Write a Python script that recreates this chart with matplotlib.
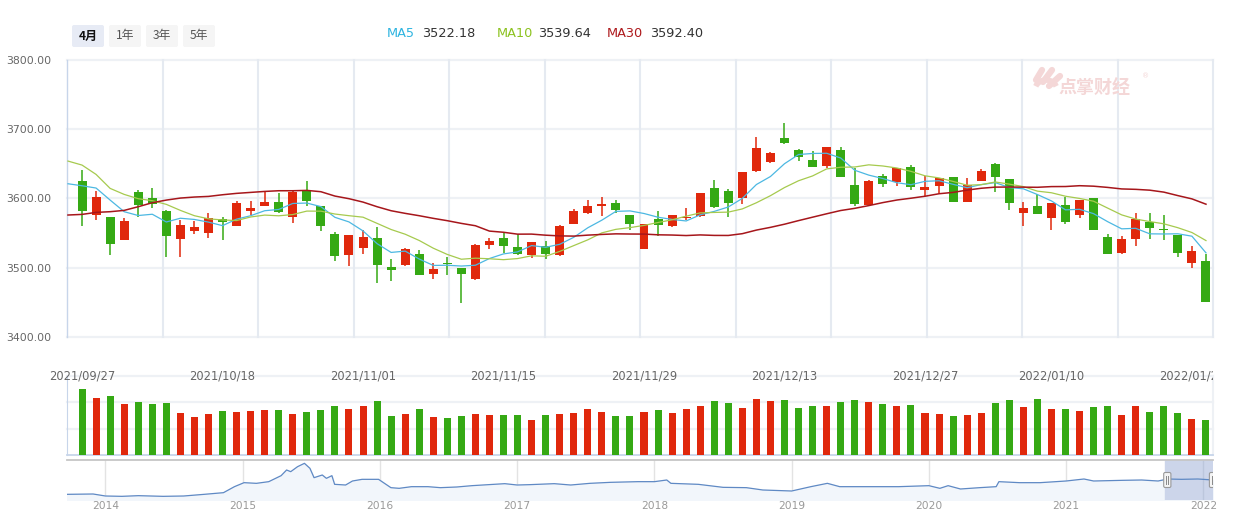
import matplotlib.pyplot as plt
from matplotlib.patches import FancyBboxPatch, Rectangle, Arc
from matplotlib.transforms import Bbox, TransformedBbox
import numpy as np
import pandas as pd

plt.rcParams['font.family'] = ['DejaVu Sans', 'Noto Sans CJK SC']

# ---- data ----
tick_idx = [0, 10, 20, 30, 40, 50, 60, 69, 79]
tick_labels = ['2021/09/27', '2021/10/18', '2021/11/01', '2021/11/15', '2021/11/29',
               '2021/12/13', '2021/12/27', '2022/01/10', '2022/01/24']

opens = [3625.0, 3576.3, 3573.0, 3540.2, 3609.1, 3600.4, 3581.6, 3541.7, 3553.2, 3550.3,
         3569.6, 3560.4, 3582.1, 3589.3, 3594.6, 3573.5, 3612.0, 3589.3, 3548.4, 3518.5,
         3528.7, 3542.6, 3500.7, 3504.1, 3519.5, 3491.1, 3506.0, 3499.3, 3483.9, 3533.0,
         3542.6, 3529.6, 3518.5, 3531.1, 3518.5, 3562.4, 3579.2, 3589.3, 3593.2, 3575.9,
         3527.2, 3570.1, 3560.4, 3571.0, 3574.9, 3614.9, 3610.5, 3600.9, 3639.9, 3652.9,
         3687.1, 3669.8, 3655.3, 3647.2, 3669.8, 3619.2, 3590.3, 3632.2, 3624.0, 3645.2,
         3612.5, 3618.2, 3630.8, 3595.1, 3625.0, 3649.5, 3627.9, 3579.2, 3588.9, 3572.0,
         3590.3, 3576.3, 3600.4, 3544.1, 3521.4, 3540.7, 3566.2, 3555.6, 3547.0, 3507.0,
         3509.4]
highs = [3640.9, 3610.5, 3573.0, 3571.0, 3612.0, 3614.9, 3583.1, 3568.6, 3567.7, 3578.8,
         3572.5, 3596.1, 3596.1, 3610.0, 3607.2, 3612.0, 3625.0, 3589.3, 3551.3, 3546.9,
         3554.2, 3559.0, 3512.3, 3528.2, 3525.3, 3506.5, 3515.2, 3499.3, 3533.9, 3542.6,
         3549.8, 3548.9, 3536.8, 3538.3, 3561.4, 3584.5, 3597.5, 3601.9, 3597.5, 3575.9,
         3562.9, 3581.6, 3575.9, 3586.0, 3607.6, 3626.4, 3613.4, 3638.0, 3688.6, 3666.9,
         3708.8, 3671.2, 3668.3, 3674.1, 3674.1, 3643.3, 3626.4, 3635.1, 3643.8, 3648.1,
         3632.2, 3629.3, 3630.8, 3629.3, 3642.3, 3651.0, 3627.9, 3594.6, 3606.7, 3593.2,
         3601.9, 3597.5, 3600.4, 3548.4, 3545.5, 3578.8, 3578.8, 3575.9, 3547.0, 3531.1,
         3519.5]
lows = [3560.4, 3568.6, 3518.1, 3540.2, 3572.5, 3586.5, 3515.6, 3515.6, 3547.9, 3543.1,
        3539.7, 3560.4, 3575.4, 3589.3, 3579.2, 3564.8, 3589.3, 3552.7, 3509.9, 3502.6,
        3520.0, 3478.1, 3481.0, 3502.6, 3489.6, 3483.9, 3489.6, 3449.2, 3482.4, 3526.7,
        3521.4, 3518.5, 3514.2, 3512.8, 3517.1, 3562.4, 3577.8, 3574.9, 3579.2, 3554.7,
        3527.2, 3546.0, 3559.0, 3568.6, 3573.5, 3586.5, 3573.5, 3592.2, 3638.5, 3651.5,
        3678.9, 3654.4, 3645.7, 3644.3, 3631.3, 3589.3, 3590.3, 3616.8, 3618.2, 3612.5,
        3603.8, 3608.1, 3595.1, 3595.1, 3625.0, 3609.6, 3583.6, 3560.4, 3577.8, 3554.7,
        3563.3, 3572.0, 3554.7, 3520.0, 3520.0, 3531.5, 3541.7, 3540.2, 3515.6, 3499.8,
        3449.7]
closes = [3582.1, 3601.9, 3534.4, 3567.2, 3590.3, 3591.3, 3546.0, 3561.4, 3558.5, 3571.0,
          3565.7, 3593.2, 3586.0, 3594.6, 3580.2, 3609.1, 3596.1, 3560.4, 3517.1, 3546.9,
          3544.1, 3504.1, 3496.9, 3526.7, 3489.6, 3497.8, 3505.5, 3491.1, 3532.5, 3538.3,
          3531.1, 3520.0, 3536.8, 3520.0, 3560.0, 3581.6, 3588.9, 3591.8, 3583.6, 3563.3,
          3562.9, 3561.9, 3575.9, 3572.5, 3607.6, 3587.9, 3593.7, 3638.0, 3672.7, 3665.5,
          3680.4, 3660.2, 3645.7, 3674.1, 3631.3, 3591.8, 3625.0, 3621.1, 3643.8, 3616.8,
          3616.3, 3629.3, 3595.1, 3619.2, 3639.4, 3630.8, 3593.7, 3586.0, 3577.8, 3593.2,
          3566.2, 3597.5, 3554.7, 3520.0, 3541.2, 3570.1, 3557.5, 3553.7, 3521.4, 3523.8,
          3449.7]
volumes = [198, 171, 177, 153, 159, 153, 156, 126, 114, 123,
           132, 129, 132, 135, 135, 123, 129, 135, 147, 138,
           147, 162, 117, 123, 138, 114, 111, 117, 123, 120,
           120, 120, 105, 120, 123, 126, 138, 129, 117, 117,
           129, 135, 126, 138, 147, 162, 156, 141, 168, 162,
           165, 141, 147, 147, 159, 165, 159, 153, 147, 150,
           126, 123, 117, 120, 126, 156, 165, 144, 168, 138,
           138, 132, 144, 147, 120, 147, 129, 147, 126, 108,
           105]

# MA values before enough closes are in the window (x = -1 ...)
ma5_head = [3621.1, 3618.2, 3614.9, 3597.5, 3580.7]
ma10_head = [3653.9, 3648.1, 3634.6, 3614.4, 3605.7, 3599.5, 3596.6, 3591.3, 3582.6, 3574.9]
ma30_head = [3575.9, 3576.8, 3579.7, 3580.7, 3582.6, 3587.9, 3593.7, 3597.5, 3600.4, 3601.9,
             3602.8, 3605.2, 3607.2, 3608.6, 3610.0, 3611.0, 3611.0, 3611.5, 3609.6, 3603.3,
             3599.5, 3594.6, 3587.9, 3582.1, 3578.3, 3574.9, 3571.1, 3567.7, 3563.8, 3560.4]
ma_last = ['3522.18', '3539.64', '3592.40']

nav_years = [2013.72, 2013.91, 2014.0, 2014.12, 2014.24, 2014.42, 2014.57, 2014.72, 2014.86, 2014.94,
             2015.01, 2015.10, 2015.19, 2015.28, 2015.32, 2015.35, 2015.40, 2015.45, 2015.49, 2015.52,
             2015.58, 2015.61, 2015.65, 2015.67, 2015.75, 2015.80, 2015.87, 2015.99, 2016.08, 2016.14,
             2016.23, 2016.35, 2016.44, 2016.56, 2016.67, 2016.91, 2017.0, 2017.09, 2017.27, 2017.39,
             2017.53, 2017.68, 2017.88, 2018.0, 2018.09, 2018.12, 2018.32, 2018.50, 2018.67, 2018.79,
             2019.0, 2019.14, 2019.26, 2019.35, 2019.55, 2019.78, 2020.0, 2020.08, 2020.14, 2020.23,
             2020.37, 2020.49, 2020.51, 2020.66, 2020.81, 2021.0, 2021.13, 2021.2, 2021.41, 2021.55,
             2021.67, 2021.74, 2021.84, 2021.96, 2022.07]
nav_values = [1914, 1949, 1738, 1703, 1773, 1703, 1738, 1914, 2089, 2721,
              3142, 3072, 3248, 3879, 4476, 4300, 4827, 5178, 4652, 3669,
              3950, 3598, 3879, 2967, 2896, 3318, 3493, 3493, 2616, 2546,
              2721, 2721, 2616, 2686, 2826, 3037, 2896, 2932, 3037, 2896,
              3072, 3177, 3248, 3248, 3423, 3072, 2967, 2651, 2616, 2370,
              2265, 2721, 3072, 2721, 2721, 2721, 2826, 2546, 2826, 2476,
              2616, 2721, 3248, 3142, 3142, 3318, 3528, 3318, 3388, 3423,
              3318, 3528, 3493, 3528, 3423]
nav_ticks = [2014, 2015, 2016, 2017, 2018, 2019, 2020, 2021, 2022]

# ---- styling ----
RED = '#e0280c'
GREEN = '#35a914'
MA_COLORS = ['#4cb8e2', '#a6ca4e', '#a6161b']
LEG_COLORS = ['#2db4e0', '#8cc21f', '#ae1a1d']
GRID = '#eef1f5'
VGRID = '#e5eaf1'
AXIS = '#c7d5ea'

W, H = 1249, 517
fig = plt.figure(figsize=(W / 100, H / 100), dpi=100)


def px_axes(l, t, r, b, **kw):
    return fig.add_axes([l / W, 1 - b / H, (r - l) / W, (b - t) / H], **kw)


XL = (-1.07, 80.5)
x = np.arange(len(closes))

# ---- price panel ----
ax = px_axes(67, 60, 1213, 336.7)
ax.set_xlim(*XL)
ax.set_ylim(3400, 3800)
for s in ['top', 'right', 'bottom']:
    ax.spines[s].set_visible(False)
ax.spines['left'].set_color(AXIS)
ax.spines['left'].set_linewidth(1)
ax.set_yticks([3400, 3500, 3600, 3700, 3800])
ax.set_yticklabels(['%.2f' % v for v in [3400, 3500, 3600, 3700, 3800]],
                   color='#666666', fontsize=7.8)
ax.tick_params(axis='y', length=0, pad=11)
ax.set_xticks([])
for v in [3400, 3500, 3600, 3700, 3800]:
    ax.axhline(v, color=GRID, lw=1.6, zorder=0, clip_on=False)
for k in range(1, 13):
    ax.axvline(XL[0] + k * (XL[1] - XL[0]) / 12, color=VGRID, lw=1.5, zorder=0, clip_on=False)

for i in x:
    o, h, l, c = opens[i], highs[i], lows[i], closes[i]
    col = RED if c >= o else GREEN
    ax.vlines(i, l, h, color=col, lw=1.1, zorder=3)
    ax.bar(i, max(abs(c - o), 1.6), bottom=min(o, c), width=0.64, color=col, zorder=3)

cl = pd.Series(closes)
heads = [ma5_head, ma10_head, ma30_head]
for n, head, col, lw in zip([5, 10, 30], heads, MA_COLORS, [0.9, 0.9, 1.1]):
    rest = cl.rolling(n).mean().values[n - 1:]
    vals = list(head) + list(rest)
    ax.plot(np.arange(-1, len(vals) - 1), vals, color=col, lw=lw, zorder=4)

# ---- volume panel ----
vax = px_axes(67, 375.7, 1213, 455)
vax.set_xlim(*XL)
vax.set_ylim(0, 238)
for s in ['top', 'right']:
    vax.spines[s].set_visible(False)
vax.spines['left'].set_color(AXIS)
vax.spines['bottom'].set_color(AXIS)
vax.spines['bottom'].set_linewidth(1.3)
vax.set_xticks([])
vax.set_yticks([])
for v in [238 / 3, 2 * 238 / 3, 238]:
    vax.axhline(v, color=GRID, lw=1.6, zorder=0, clip_on=False)
vax.axvline(XL[1], color=GRID, lw=1.5, zorder=0, clip_on=False)
vcols = [RED if c >= o else GREEN for o, c in zip(opens, closes)]
vax.bar(x, volumes, width=0.5, color=vcols, zorder=3)

clip = TransformedBbox(Bbox([[0, 0], [1213 / W, 1]]), fig.transFigure)
for i, lab in zip(tick_idx, tick_labels):
    t = vax.text(i, 238, lab, ha='center', va='center', fontsize=8.3, color='#666666', zorder=5)
    t.set_clip_box(clip)
    t.set_clip_on(True)

# ---- navigator ----
nax = px_axes(67, 460, 1213, 500)
nax.set_xlim(2013.72, 2022.07)
nax.set_ylim(1317, 5529)
for s in ['left', 'right', 'bottom']:
    nax.spines[s].set_visible(False)
nax.spines['top'].set_color('#c6c6c6')
nax.spines['top'].set_linewidth(1.3)
nax.set_yticks([])
nax.set_xticks(nav_ticks)
nax.set_xticklabels([str(y) for y in nav_ticks], color='#999999', fontsize=7.7)
nax.tick_params(axis='x', length=0, pad=1)
for y in nav_ticks:
    nax.axvline(y, color='#e3e3e3', lw=1, zorder=0)
nax.fill_between(nav_years, nav_values, 1317, color='#f2f6fb', zorder=1)
nax.add_patch(Rectangle((2021.72, 1317), 2022.07 - 2021.72, 5529 - 1317,
                        color='#ccd5ea', zorder=2))
nax.axvline(2022, color='#bcc6dc', lw=1, zorder=2)
nax.plot(nav_years, nav_values, color='#5f89c4', lw=0.9, zorder=3)

# ---- overlay in pixel coordinates ----
ov = fig.add_axes([0, 0, 1, 1], zorder=10)
ov.set_xlim(0, W)
ov.set_ylim(H, 0)
ov.axis('off')
ov.patch.set_alpha(0)

btns = [('4月', 72, '#e7ebf5', 'bold', '#111111'), ('1年', 109, '#f5f5f5', 'normal', '#555555'),
        ('3年', 146, '#f5f5f5', 'normal', '#555555'), ('5年', 183, '#f5f5f5', 'normal', '#555555')]
for lab, bx, fc, fw, tc in btns:
    ov.add_patch(FancyBboxPatch((bx, 25), 32, 22, boxstyle='round,pad=0,rounding_size=2',
                                fc=fc, ec='none'))
    ov.text(bx + 16, 36, lab, ha='center', va='center', fontsize=8.6, fontweight=fw, color=tc,
            family=['Noto Sans CJK SC', 'DejaVu Sans'])

for name, val, col, xn, xv in zip(['MA5', 'MA10', 'MA30'], ma_last, LEG_COLORS,
                                  [387, 497, 607], [422, 538, 650]):
    ov.text(xn, 33.5, name, ha='left', va='center', fontsize=9.3, color=col)
    ov.text(xv, 33.5, val, ha='left', va='center', fontsize=9.3, color='#333333')

# watermark
WM = '#f4d7d7'
for (x0, y0, x1, y1) in [(1036, 80, 1042, 70), (1043, 82, 1052, 70), (1049, 86, 1060, 76)]:
    ov.plot([x0, x1], [y0, y1], color=WM, lw=4.5, solid_capstyle='round')
ov.add_patch(Arc((1046, 90), 22, 20, theta1=200, theta2=340, color=WM, lw=4))
ov.text(1094, 88, '点掌财经', ha='center', va='center', fontsize=13, fontweight='bold',
        color=WM, family=['Noto Sans CJK SC', 'DejaVu Sans'])
ov.text(1146, 76, '®', ha='center', va='center', fontsize=5, color=WM)

# navigator handles
for hx in [1167.3, 1213]:
    p = FancyBboxPatch((hx - 3.6, 472.5), 7.2, 15, boxstyle='round,pad=0,rounding_size=1.5',
                       fc='#f4f4f4', ec='#999999', lw=0.8)
    ov.add_patch(p)
    l1 = ov.plot([hx - 0.9, hx - 0.9], [476, 484], color='#888888', lw=0.7)[0]
    l2 = ov.plot([hx + 0.9, hx + 0.9], [476, 484], color='#888888', lw=0.7)[0]
    for art in (p, l1, l2):
        art.set_clip_box(clip)
        art.set_clip_on(True)

fig.savefig('out.png', dpi=100)
